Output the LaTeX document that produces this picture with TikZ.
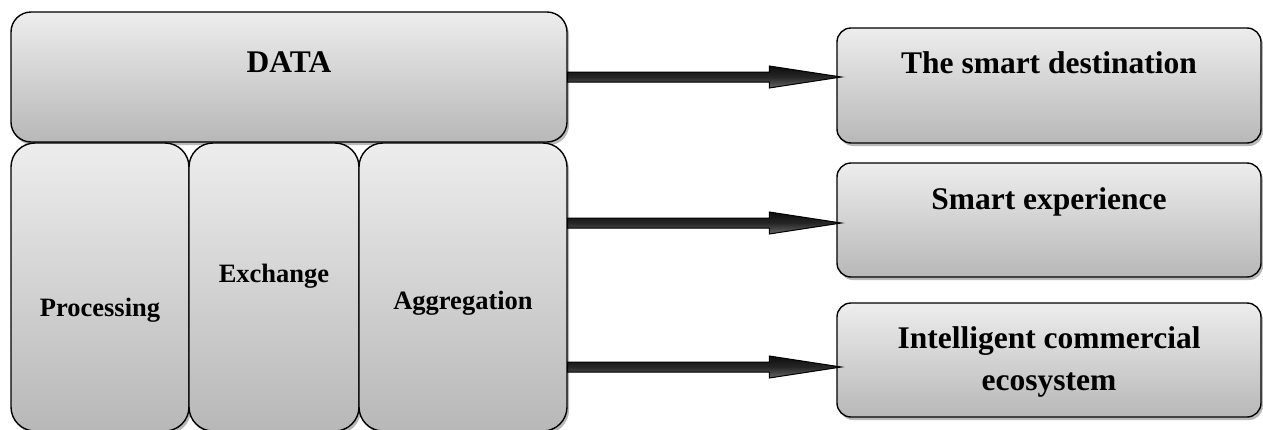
\documentclass[tikz,border=0pt]{standalone}
\usepackage{fontspec}
\setmainfont{Liberation Serif}
\usetikzlibrary{shadows,calc}
\tikzset{
  box/.style={draw=black, line width=1.4pt, top color=black!7, bottom color=black!28,
    inner sep=0pt, drop shadow={shadow xshift=2pt, shadow yshift=-3pt, fill=black!55}},
  bigbox/.style={box, rounded corners=20pt},
  colbox/.style={box, rounded corners=24pt},
  outbox/.style={box, rounded corners=14pt},
  bigtxt/.style={font=\fontsize{31.5}{42}\selectfont\bfseries, inner sep=0pt, align=center},
  smalltxt/.style={font=\fontsize{26.5}{32}\selectfont\bfseries, inner sep=0pt},
  arrbody/.style={draw=black, line width=1pt, top color=black!95, bottom color=black!60, middle color=black!85},
  arrshadow/.style={fill=black!45},
}
\newcommand\fatarrow[2]{%
  \path[arrshadow, xshift=4pt, yshift=-3pt]
    ($(#1)+(0,-5)$) -- ($(#2)+(-72,-5)$) -- ($(#2)+(-72,-11)$) -- (#2)
    -- ($(#2)+(-72,11)$) -- ($(#2)+(-72,5)$) -- ($(#1)+(0,5)$) -- cycle;
  \path[arrbody]
    ($(#1)+(0,-5)$) -- ($(#2)+(-72,-5)$) -- ($(#2)+(-72,-11)$) -- (#2)
    -- ($(#2)+(-72,11)$) -- ($(#2)+(-72,5)$) -- ($(#1)+(0,5)$) -- cycle;
}
\begin{document}
\begin{tikzpicture}[x=1pt, y=-1pt]
\useasboundingbox (0,0) rectangle (1263,429);
% left boxes
\node[bigbox, minimum width=556pt, minimum height=130pt] (data) at (289,77) {};
\node[colbox, minimum width=178pt, minimum height=288pt] (proc) at (100,287) {};
\node[colbox, minimum width=170pt, minimum height=288pt] (exch) at (274,287) {};
\node[colbox, minimum width=208pt, minimum height=288pt] (agg) at (463,287) {};
% right boxes
\node[outbox, minimum width=424pt, minimum height=115pt] (out1) at (1049,85.5) {};
\node[outbox, minimum width=424pt, minimum height=114pt] (out2) at (1049,220) {};
\node[outbox, minimum width=424pt, minimum height=114pt] (out3) at (1049,360) {};
% texts
\node[bigtxt, anchor=base] (tdata) at ([yshift=-61pt]data.north) {DATA};
\node[smalltxt, anchor=base] (tproc) at ([yshift=-174pt]proc.north) {Processing};
\node[smalltxt, anchor=base] (texch) at ([yshift=-140pt]exch.north) {Exchange};
\node[smalltxt, anchor=base] (tagg) at ([yshift=-167pt]agg.north) {Aggregation};
\node[bigtxt, anchor=base] (tout1) at ([yshift=-46pt]out1.north) {The smart destination};
\node[bigtxt, anchor=base] (tout2) at ([yshift=-47pt]out2.north) {Smart experience};
\node[bigtxt] (tout3) at ([yshift=-59.5pt]out3.north) {Intelligent commercial\\ecosystem};
% arrows
\coordinate (a1s) at (data.east);
\coordinate (a1e) at ([xshift=5pt]out1.west |- a1s);
\coordinate (a2s) at (agg.east |- 0,223);
\coordinate (a2e) at ([xshift=5pt]out2.west |- a2s);
\coordinate (a3s) at (agg.east |- 0,367);
\coordinate (a3e) at ([xshift=5pt]out3.west |- a3s);
\fatarrow{a1s}{a1e}
\fatarrow{a2s}{a2e}
\fatarrow{a3s}{a3e}
\end{tikzpicture}
\end{document}
